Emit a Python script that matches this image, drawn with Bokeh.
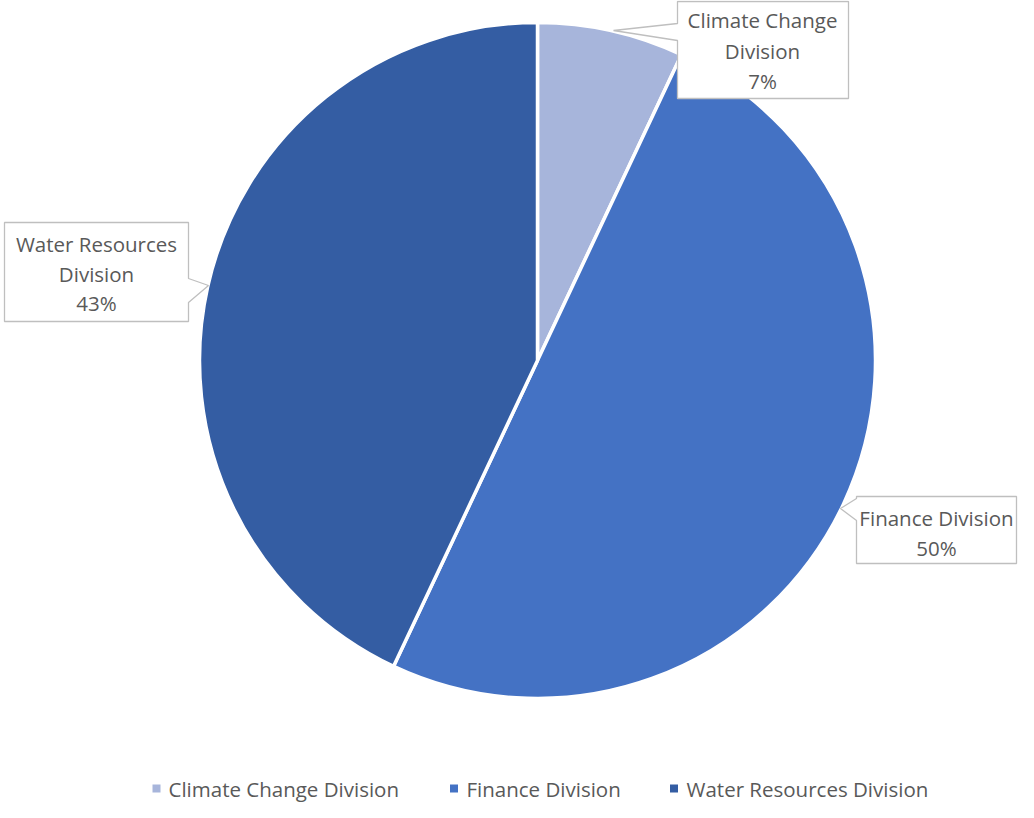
import math
from bokeh.plotting import figure
from bokeh.models import Range1d
from bokeh.core.properties import value
from bokeh.embed import file_html
from bokeh.resources import INLINE

# ---- data ----
categories = ["Climate Change Division", "Finance Division", "Water Resources Division"]
values = [7, 50, 43]
colors = ["#A7B5DB", "#4472C4", "#345DA3"]
label_lines = [["Climate Change", "Division", "7%"],
               ["Finance Division", "50%"],
               ["Water Resources", "Division", "43%"]]

# ---- layout (pixel coordinates, y down) ----
W, H = 1018, 802
CX, CY, R = 537, 360, 338
FONT = value("Open Sans")
TXT = "#595959"
FS = "20.5px"

# callout boxes: (left, top, right, bottom), pointer (attach_y1, tip_x, tip_y, attach_y2), side
boxes = [
    ((677, 1, 848, 98), (23, 613, 30, 40), "left"),
    ((856, 496, 1016, 563), (498, 840, 508, 520), "left"),
    ((4, 222, 188, 321), (278, 208, 285, 302), "right"),
]
line_y = [[19, 50, 80], [517, 547], [243, 273, 302]]
text_cx = [762, 936, 96]

p = figure(width=W, height=H, output_backend="svg", toolbar_location=None,
           x_range=Range1d(0, W), y_range=Range1d(0, H), min_border=0)
p.axis.visible = False
p.grid.visible = False
p.outline_line_color = None
p.background_fill_color = "white"
p.border_fill_color = "white"

def Y(y):
    return H - y

total = sum(values)
cum = 0.0
starts, ends = [], []
for v in values:
    starts.append(math.pi / 2 - 2 * math.pi * cum / total)
    cum += v
    ends.append(math.pi / 2 - 2 * math.pi * cum / total)

p.wedge(x=[CX] * 3, y=[Y(CY)] * 3, radius=R, start_angle=starts, end_angle=ends,
        direction="clock", fill_color=colors, line_color="white", line_width=3.5)

for (l, t, r, b), (a1, tx, ty, a2), side in boxes:
    if side == "left":
        xs = [l, r, r, l, l, tx, l]
        ys = [t, t, b, b, a2, ty, a1]
    else:
        xs = [l, r, r, tx, r, r, l]
        ys = [t, t, a1, ty, a2, b, b]
    p.patch(x=xs, y=[Y(v) for v in ys], fill_color="white", line_color="#BFBFBF", line_width=1.3)

for lines, ys, cx in zip(label_lines, line_y, text_cx):
    p.text(x=[cx] * len(lines), y=[Y(v) for v in ys], text=lines, text_align="center",
           text_baseline="middle", text_font=FONT, text_font_size=FS, text_color=TXT)

# legend
leg_sq_x = [156, 453.5, 673.5]
leg_tx_x = [168, 466, 686]
leg_y = 788
p.rect(x=leg_sq_x, y=[Y(leg_y)] * 3, width=8, height=8, fill_color=colors, line_color=None)
p.text(x=leg_tx_x, y=[Y(leg_y)] * 3, text=categories, text_align="left", text_baseline="middle",
       text_font=FONT, text_font_size=FS, text_color=TXT)

open("out.html", "w").write(file_html(p, INLINE))
